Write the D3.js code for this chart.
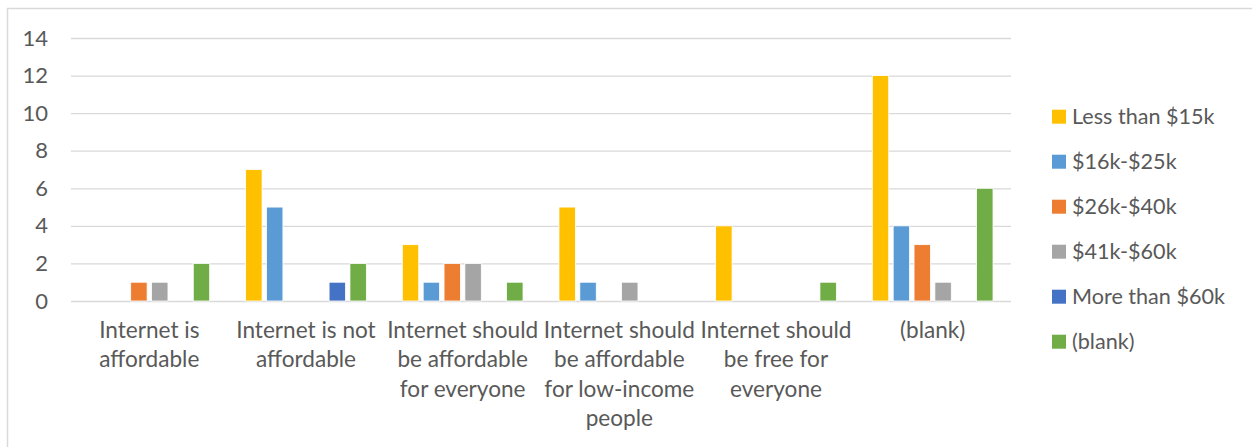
<!DOCTYPE html>
<html>
<head>
<meta charset="utf-8">
<script src="https://cdn.jsdelivr.net/npm/d3@7"></script>
<style>
  html, body { margin: 0; padding: 0; background: #fff; }
  svg { display: block; }
  text { font-family: Lato, "Open Sans", sans-serif; fill: #595959; }
</style>
</head>
<body>
<svg id="chart" width="1252" height="447"></svg>
<script>
// categories (line breaks as in the picture)
const categories = [
  'Internet is\naffordable',
  'Internet is not\naffordable',
  'Internet should\nbe affordable\nfor everyone',
  'Internet should\nbe affordable\nfor low-income\npeople',
  'Internet should\nbe free for\neveryone',
  '(blank)'
]
const seriesNames = ['Less than $15k', '$16k-$25k', '$26k-$40k', '$41k-$60k', 'More than $60k', '(blank)']
const seriesColors = ['#FFC000', '#5B9BD5', '#ED7D31', '#A5A5A5', '#4472C4', '#70AD47']

// one array per series, one value per category
const lessThan15k = [0, 7, 3, 5, 4, 12]
const from16to25k = [0, 5, 1, 1, 0, 4]
const from26to40k = [1, 0, 2, 0, 0, 3]
const from41to60k = [1, 0, 2, 1, 0, 1]
const moreThan60k = [0, 1, 0, 0, 0, 0]
const blankIncome = [2, 2, 1, 0, 1, 6]
const seriesValues = [lessThan15k, from16to25k, from26to40k, from41to60k, moreThan60k, blankIncome]

const yTicks = [0, 2, 4, 6, 8, 10, 12, 14]

const svg = d3.select('#chart')
const fontSize = 22

// outer chart border
svg.append('rect')
    .attr('x', 7.5).attr('y', 8.5)
    .attr('width', 1260).attr('height', 460)
    .attr('fill', 'none')
    .attr('stroke', '#d9d9d9')
    .attr('stroke-width', 1.5)

const plotLeft = 71, plotRight = 1011, plotTop = 38, plotBottom = 301

const x0 = d3.scaleBand().domain(d3.range(categories.length)).range([plotLeft, plotRight]).padding(0)
const x1 = d3.scaleBand().domain(d3.range(seriesNames.length)).range([0, x0.bandwidth()])
    .paddingInner(0.213).paddingOuter(0.862)
const y = d3.scaleLinear().domain([0, 14]).range([plotBottom, plotTop])

// gridlines
svg.append('g').selectAll('line').data(yTicks).enter()
    .append('line')
    .attr('x1', plotLeft).attr('x2', plotRight)
    .attr('y1', d => y(d) + 0.5).attr('y2', d => y(d) + 0.5)
    .attr('stroke', '#d9d9d9')
    .attr('stroke-width', 1.3)

// y axis labels
const yAxis = d3.axisLeft(y).tickValues(yTicks).tickSize(0).tickPadding(0)
svg.append('g')
    .attr('transform', `translate(48,0)`)
    .call(yAxis)
    .call(g => g.select('.domain').remove())
    .selectAll('text')
    .attr('font-size', fontSize)
    .attr('font-family', 'Lato, "Open Sans", sans-serif')
    .attr('fill', '#595959')

// bars
const bars = []
categories.forEach((c, ci) => {
    seriesValues.forEach((vals, si) => {
        if (vals[ci] > 0) bars.push({ ci: ci, si: si, value: vals[ci] })
    })
})
svg.append('g').selectAll('rect').data(bars).enter()
    .append('rect')
    .attr('x', d => x0(d.ci) + x1(d.si))
    .attr('width', x1.bandwidth())
    .attr('y', d => y(d.value))
    .attr('height', d => y(0) - y(d.value))
    .attr('fill', d => seriesColors[d.si])
    .attr('stroke', '#fff')
    .attr('stroke-width', 0.8)

// category labels
const catG = svg.append('g').selectAll('text').data(categories).enter()
    .append('text')
    .attr('text-anchor', 'middle')
    .attr('font-size', 22.6)
    .attr('x', (d, i) => x0(i) + x0.bandwidth() / 2)
    .attr('y', 338)
catG.selectAll('tspan').data(d => d.split('\n')).enter()
    .append('tspan')
    .attr('x', function () { return this.parentNode.getAttribute('x') })
    .attr('dy', (d, i) => i === 0 ? 0 : 29.3)
    .text(d => d)

// legend
const legend = svg.append('g').selectAll('g').data(seriesNames).enter()
    .append('g')
    .attr('transform', (d, i) => `translate(1052, ${116.7 + i * 45})`)
legend.append('rect')
    .attr('x', 0).attr('y', -7)
    .attr('width', 14).attr('height', 14)
    .attr('fill', (d, i) => seriesColors[i])
legend.append('text')
    .attr('x', 20)
    .attr('y', 0)
    .attr('dy', '0.35em')
    .attr('font-size', 21.6)
    .text(d => d)
</script>
</body>
</html>
